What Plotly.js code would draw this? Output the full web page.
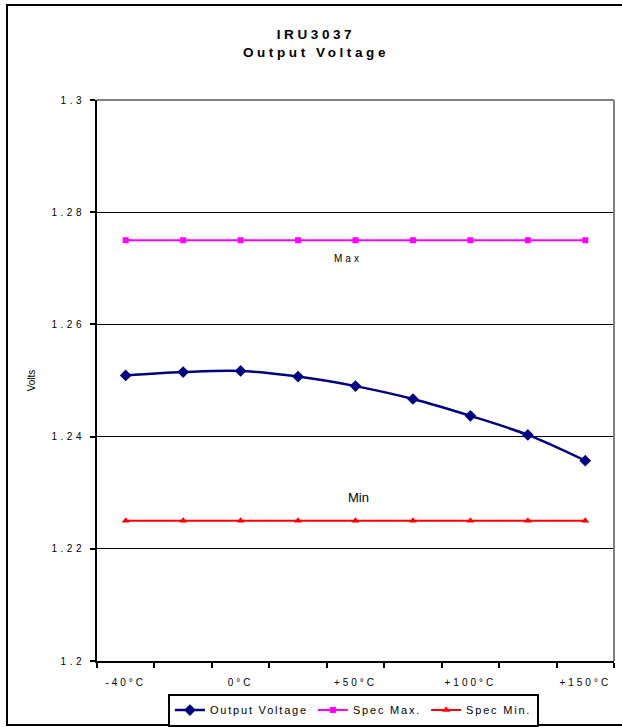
<!DOCTYPE html>
<html>
<head>
<meta charset="utf-8">
<script src="https://cdn.plot.ly/plotly-3.0.1.min.js"></script>
<style>
  html, body { margin: 0; padding: 0; background: #fff; }
  #chart { width: 622px; height: 727px; }
  .gtitle { letter-spacing: 3.6px; }
  .xtick text { letter-spacing: 3px; }
  .ytick text { letter-spacing: 3.5px; }
  .legendtext { letter-spacing: 1.8px; }
</style>
</head>
<body>
<div id="chart"></div>
<script>
// ---- data ----
var categories = ["-40°C", "-20°C", "0°C", "+25°C", "+50°C", "+75°C", "+100°C", "+125°C", "+150°C"];
var tickLabels = ["-40°C", "", "0°C", "", "+50°C", "", "+100°C", "", "+150°C"];
var outputVoltage = [1.2509, 1.2515, 1.2517, 1.2507, 1.2490, 1.2467, 1.2437, 1.2403, 1.2357];
var specMax = [1.275, 1.275, 1.275, 1.275, 1.275, 1.275, 1.275, 1.275, 1.275];
var specMin = [1.225, 1.225, 1.225, 1.225, 1.225, 1.225, 1.225, 1.225, 1.225];
var yTicks = [1.2, 1.22, 1.24, 1.26, 1.28, 1.3];

var FONT = "Liberation Sans, Arial, sans-serif";

var traces = [
  {
    x: categories, y: outputVoltage, name: "Output Voltage",
    type: "scatter", mode: "lines+markers",
    line: { color: "#000080", width: 2.5, shape: "spline", smoothing: 1 },
    marker: { symbol: "diamond", size: 9, color: "#000080" }
  },
  {
    x: categories, y: specMax, name: "Spec Max.",
    type: "scatter", mode: "lines+markers",
    line: { color: "#FF00FF", width: 2 },
    marker: { symbol: "square", size: 6, color: "#FF00FF" }
  },
  {
    x: categories, y: specMin, name: "Spec Min.",
    type: "scatter", mode: "lines+markers",
    line: { color: "#FF0000", width: 2 },
    marker: { symbol: "triangle-up", size: 7, color: "#FF0000" }
  }
];

var layout = {
  width: 622, height: 727,
  margin: { l: 97, r: 8, t: 100, b: 66, autoexpand: false },
  paper_bgcolor: "#ffffff", plot_bgcolor: "#ffffff",
  font: { family: FONT, size: 10, color: "#000" },
  showlegend: true,
  title: {
    text: "<b>IRU3037</b><br><b>Output Voltage</b>",
    font: { family: FONT, size: 13.5, color: "#000" },
    xref: "container", x: 0.508, xanchor: "center",
    yref: "container", y: 1 - 39 / 727, yanchor: "top"
  },
  xaxis: {
    type: "category",
    tickmode: "array", tickvals: categories, ticktext: tickLabels,
    tickson: "boundaries",
    ticks: "outside", ticklen: 5, tickwidth: 2, tickcolor: "#000",
    ticklabelstandoff: 11,
    showline: true, linecolor: "#000", linewidth: 2,
    showgrid: false, zeroline: false,
    tickfont: { family: FONT, size: 10, color: "#000" },
    range: [-0.5, 8.5], fixedrange: true
  },
  yaxis: {
    range: [1.2, 1.3],
    tickmode: "array", tickvals: yTicks,
    ticks: "outside", ticklen: 5, tickwidth: 2, tickcolor: "#000",
    ticklabelstandoff: 3,
    showline: true, linecolor: "#000", linewidth: 2,
    showgrid: true, gridcolor: "#000", gridwidth: 1,
    zeroline: false,
    tickfont: { family: FONT, size: 10, color: "#000" },
    title: { text: "Volts", font: { family: FONT, size: 10, color: "#000" }, standoff: 14 },
    fixedrange: true
  },
  legend: {
    orientation: "h",
    x: 0.496, xanchor: "center",
    y: -0.058, yanchor: "top",
    bgcolor: "#fff", bordercolor: "#000", borderwidth: 2,
    font: { family: FONT, size: 11, color: "#000" },
    itemwidth: 30, tracegroupgap: 0
  },
  annotations: [
    { x: 3.87, y: 1.2718, xref: "x", yref: "y", showarrow: false,
      text: "<span style=\"letter-spacing:3px\">Max</span>",
      font: { family: FONT, size: 10, color: "#000" } },
    { x: 4.06, y: 1.2292, xref: "x", yref: "y", showarrow: false,
      text: "Min",
      font: { family: FONT, size: 13, color: "#000" } }
  ],
  shapes: [
    // plot-area border (top and right, grey)
    { type: "line", xref: "paper", yref: "paper", x0: 0, x1: 1, y0: 1, y1: 1,
      line: { color: "#808080", width: 2 }, layer: "above" },
    { type: "line", xref: "paper", yref: "paper", x0: 1, x1: 1, y0: 0, y1: 1,
      line: { color: "#808080", width: 2 }, layer: "above" },
    // outer chart frame
    { type: "rect", xref: "paper", yref: "paper",
      x0: (7 - 97) / 517, x1: (640 - 97) / 517,
      y0: (661 - 725) / 561, y1: (661 - 5) / 561,
      line: { color: "#000", width: 2 }, fillcolor: "rgba(0,0,0,0)", layer: "below" }
  ]
};

Plotly.newPlot("chart", traces, layout, { staticPlot: true, displayModeBar: false });
</script>
</body>
</html>
